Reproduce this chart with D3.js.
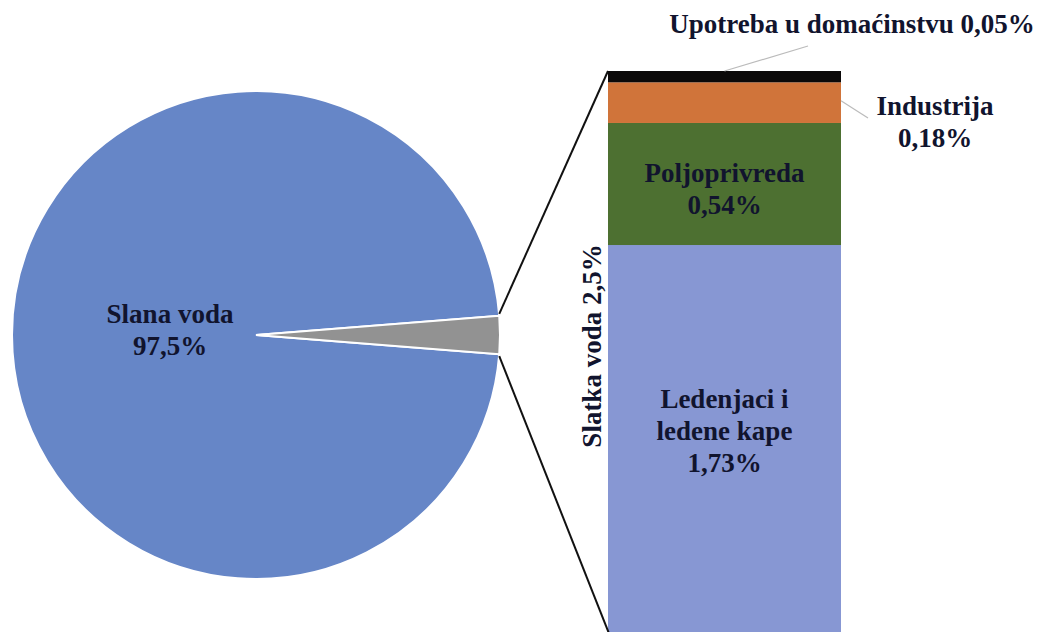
<!doctype html>
<html>
<head>
<meta charset="utf-8">
<script src="https://d3js.org/d3.v7.min.js"></script>
<style>
  body { margin: 0; background: #fff; }
  text { font-family: "Liberation Serif", "Times New Roman", serif; font-weight: bold; fill: #11142e; }
</style>
</head>
<body>
<svg width="1041" height="632"></svg>
<script>

// pie data (whole earth water)
var pieNames = ["Slana voda", "Slatka voda"];
var pieValues = [97.5, 2.5];
var pieLabels = [["Slana voda", "97,5%"], ["Slatka voda 2,5%"]];

// bar data (fresh water split), bottom to top
var barNames = ["Ledenjaci i ledene kape", "Poljoprivreda", "Industrija", "Upotreba u domaćinstvu"];
var barValues = [1.73, 0.54, 0.18, 0.05];
var barLabels = [["Ledenjaci i", "ledene kape", "1,73%"], ["Poljoprivreda", "0,54%"], ["Industrija", "0,18%"], ["Upotreba u domaćinstvu 0,05%"]];

var pieColors = ["#6686c7", "#929292"];
var barColors = ["#8797d3", "#4d7031", "#d0743a", "#0b0909"];

var fs = "27px";
var svg = d3.select("svg");

// ---- pie ----
var cx = 256, cy = 335, r = 244;
var share = pieValues[1] / d3.sum(pieValues);
var start = Math.PI / 2 + share * Math.PI;

var pie = d3.pie().sort(null).startAngle(start).endAngle(start + 2 * Math.PI);
var arcs = pie(pieValues);
var arc = d3.arc().innerRadius(0).outerRadius(r);

var pg = svg.append("g").attr("transform", "translate(" + cx + "," + cy + ")");
pg.selectAll("path")
    .data(arcs)
    .enter().append("path")
    .attr("d", arc)
    .attr("fill", function(d, i) { return pieColors[i]; })
    .attr("stroke", "#fff")
    .attr("stroke-width", 2);

pg.append("text")
    .attr("y", -12)
    .attr("text-anchor", "middle")
    .attr("font-size", fs)
    .selectAll("tspan")
    .data(pieLabels[0])
    .enter().append("tspan")
    .attr("x", -86)
    .attr("dy", function(d, i) { return i ? 32 : 0; })
    .text(function(d) { return d; });

// ---- stacked bar ----
var x = d3.scaleBand().domain(["Slatka voda"]).range([608, 841]).padding(0);
var y = d3.scaleLinear().domain([0, d3.sum(barValues)]).range([636, 71]);

var row = {};
barNames.forEach(function(n, i) { row[n] = barValues[i]; });
var stack = d3.stack().keys(barNames)([row]);

svg.append("g").selectAll("rect")
    .data(stack)
    .enter().append("rect")
    .attr("x", x("Slatka voda"))
    .attr("width", x.bandwidth())
    .attr("y", function(d) { return y(d[0][1]); })
    .attr("height", function(d) { return y(d[0][0]) - y(d[0][1]); })
    .attr("fill", function(d, i) { return barColors[i]; });

// connector lines pie -> bar
var a1 = arcs[1].startAngle, a2 = arcs[1].endAngle;
function edge(a) { return [cx + r * Math.sin(a), cy - r * Math.cos(a)]; }
var p1 = edge(a1), p2 = edge(a2);
svg.append("line")
    .attr("x1", p1[0]).attr("y1", p1[1] - 2)
    .attr("x2", x("Slatka voda")).attr("y2", y(d3.sum(barValues)))
    .attr("stroke", "#111").attr("stroke-width", 2);
svg.append("line")
    .attr("x1", p2[0]).attr("y1", p2[1] + 2)
    .attr("x2", x("Slatka voda") + 2).attr("y2", y(0))
    .attr("stroke", "#111").attr("stroke-width", 2);

// rotated side label
svg.append("text")
    .attr("transform", "translate(601," + 346 + ") rotate(-90)")
    .attr("text-anchor", "middle")
    .attr("font-size", fs)
    .text(pieLabels[1][0]);

// labels inside segments
var mid = x("Slatka voda") + x.bandwidth() / 2;
function inner(i, dy) {
    var s = stack[i][0];
    var yc = y((s[0] + s[1]) / 2) + dy;
    svg.append("text")
        .attr("text-anchor", "middle")
        .attr("font-size", fs)
        .selectAll("tspan")
        .data(barLabels[i])
        .enter().append("tspan")
        .attr("x", mid)
        .attr("y", function(d, j) { return yc + j * 32; })
        .text(function(d) { return d; });
}
inner(0, -33);
inner(1, -2);

// outside labels with leader lines
var top3 = stack[3][0], top2 = stack[2][0];
svg.append("line")
    .attr("x1", mid).attr("y1", y(top3[1]))
    .attr("x2", 808).attr("y2", 46)
    .attr("stroke", "#bbb").attr("stroke-width", 1.2);
svg.append("text")
    .attr("x", 852).attr("y", 33)
    .attr("text-anchor", "middle")
    .attr("font-size", fs)
    .text(barLabels[3][0]);

svg.append("line")
    .attr("x1", x("Slatka voda") + x.bandwidth()).attr("y1", y((top2[0] + top2[1]) / 2) - 2)
    .attr("x2", 868).attr("y2", 118)
    .attr("stroke", "#bbb").attr("stroke-width", 1.2);
svg.append("text")
    .attr("text-anchor", "middle")
    .attr("font-size", fs)
    .selectAll("tspan")
    .data(barLabels[2])
    .enter().append("tspan")
    .attr("x", 935)
    .attr("y", function(d, j) { return 115 + j * 32; })
    .text(function(d) { return d; });

</script>
</body>
</html>
